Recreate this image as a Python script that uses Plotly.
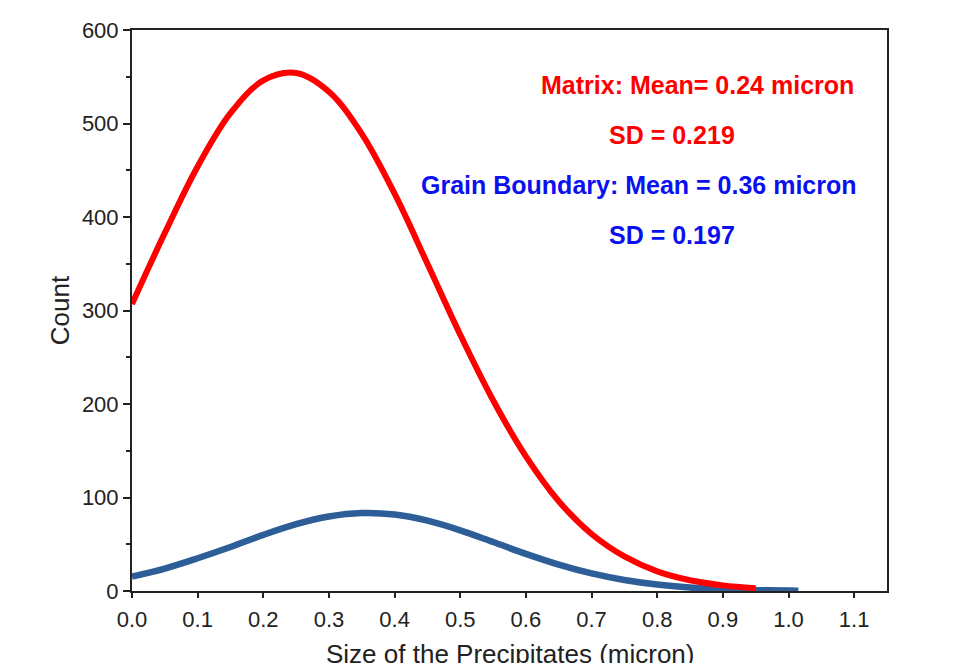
import plotly.graph_objects as go

# Fitted size distributions of precipitates (count vs size in micron)
size_matrix = [0.0, 0.05, 0.10, 0.15, 0.20, 0.25, 0.30, 0.35, 0.40, 0.45,
               0.50, 0.55, 0.60, 0.65, 0.70, 0.75, 0.80, 0.85, 0.90, 0.95]
count_matrix = [307, 383, 454, 511, 546, 554, 534, 489, 425, 350,
                274, 204, 144, 96, 61, 37, 21, 11.5, 6, 3]

size_gb = [0.0, 0.05, 0.10, 0.15, 0.20, 0.25, 0.30, 0.35, 0.40, 0.45,
           0.50, 0.55, 0.60, 0.65, 0.70, 0.75, 0.80, 0.85, 0.90, 0.95, 1.0, 1.015]
count_gb = [15.5, 24, 35, 47, 60, 71.5, 79.7, 83.4, 81.8, 75.2,
            64.9, 52.4, 39.7, 28.2, 18.8, 11.8, 6.9, 3.8, 1.9, 0.9, 0.45, 0.4]

# Summary statistics shown on the chart
notes = [
    ("Matrix: Mean= 0.24 micron", 0.862, 541, "#FF0000"),
    ("SD = 0.219", 0.822, 488, "#FF0000"),
    ("Grain Boundary: Mean = 0.36 micron", 0.772, 434, "#0A10F0"),
    ("SD = 0.197", 0.822, 381, "#0A10F0"),
]

x_ticks = [0.0, 0.1, 0.2, 0.3, 0.4, 0.5, 0.6, 0.7, 0.8, 0.9, 1.0, 1.1]
y_ticks = [0, 100, 200, 300, 400, 500, 600]
x_title = "Size of the Precipitates (micron)"

FONT = "Arial, Liberation Sans, sans-serif"
AXIS = "#222222"

fig = go.Figure()
fig.add_trace(go.Scatter(
    x=size_gb, y=count_gb, mode="lines",
    line=dict(color="#2E5E98", width=6.5, shape="spline", smoothing=1.0),
    showlegend=False, hoverinfo="skip",
))
fig.add_trace(go.Scatter(
    x=size_matrix, y=count_matrix, mode="lines",
    line=dict(color="#FF0000", width=6, shape="spline", smoothing=1.0),
    showlegend=False, hoverinfo="skip",
))

for text, x, y, color in notes:
    fig.add_annotation(
        x=x, y=y, xref="x", yref="y", text=f"<b>{text}</b>",
        showarrow=False, xanchor="center", yanchor="middle",
        font=dict(family=FONT, size=25, color=color),
    )

# x-axis title, placed below the tick labels
fig.add_annotation(
    x=0.5, y=0, xref="paper", yref="paper", text=x_title,
    showarrow=False, xanchor="center", yanchor="top", yshift=-46,
    font=dict(family=FONT, size=26, color=AXIS),
)

fig.update_layout(
    width=969, height=663,
    margin=dict(l=132, r=82, t=30, b=72),
    paper_bgcolor="white", plot_bgcolor="white",
    font=dict(family=FONT, color=AXIS),
    showlegend=False,
)

fig.update_xaxes(
    range=[0, 1.15], tickvals=x_ticks, ticktext=[f"{v:.1f}" for v in x_ticks],
    showgrid=False, zeroline=False, automargin=False,
    showline=True, linecolor=AXIS, linewidth=2, mirror=True,
    ticks="outside", ticklen=5, tickwidth=2, tickcolor=AXIS,
    tickfont=dict(size=22, family=FONT, color=AXIS), ticklabelstandoff=3,
)
fig.update_yaxes(
    range=[0, 600], tickvals=y_ticks,
    showgrid=False, zeroline=False, automargin=False,
    showline=True, linecolor=AXIS, linewidth=2, mirror=True,
    ticks="outside", ticklen=7, tickwidth=2, tickcolor=AXIS,
    tickfont=dict(size=22, family=FONT, color=AXIS),
    minor=dict(dtick=50, ticks="outside", ticklen=4, tickwidth=2, tickcolor=AXIS),
    title=dict(text="Count", font=dict(size=26, family=FONT, color=AXIS), standoff=5),
)

fig.write_html("out.html")
